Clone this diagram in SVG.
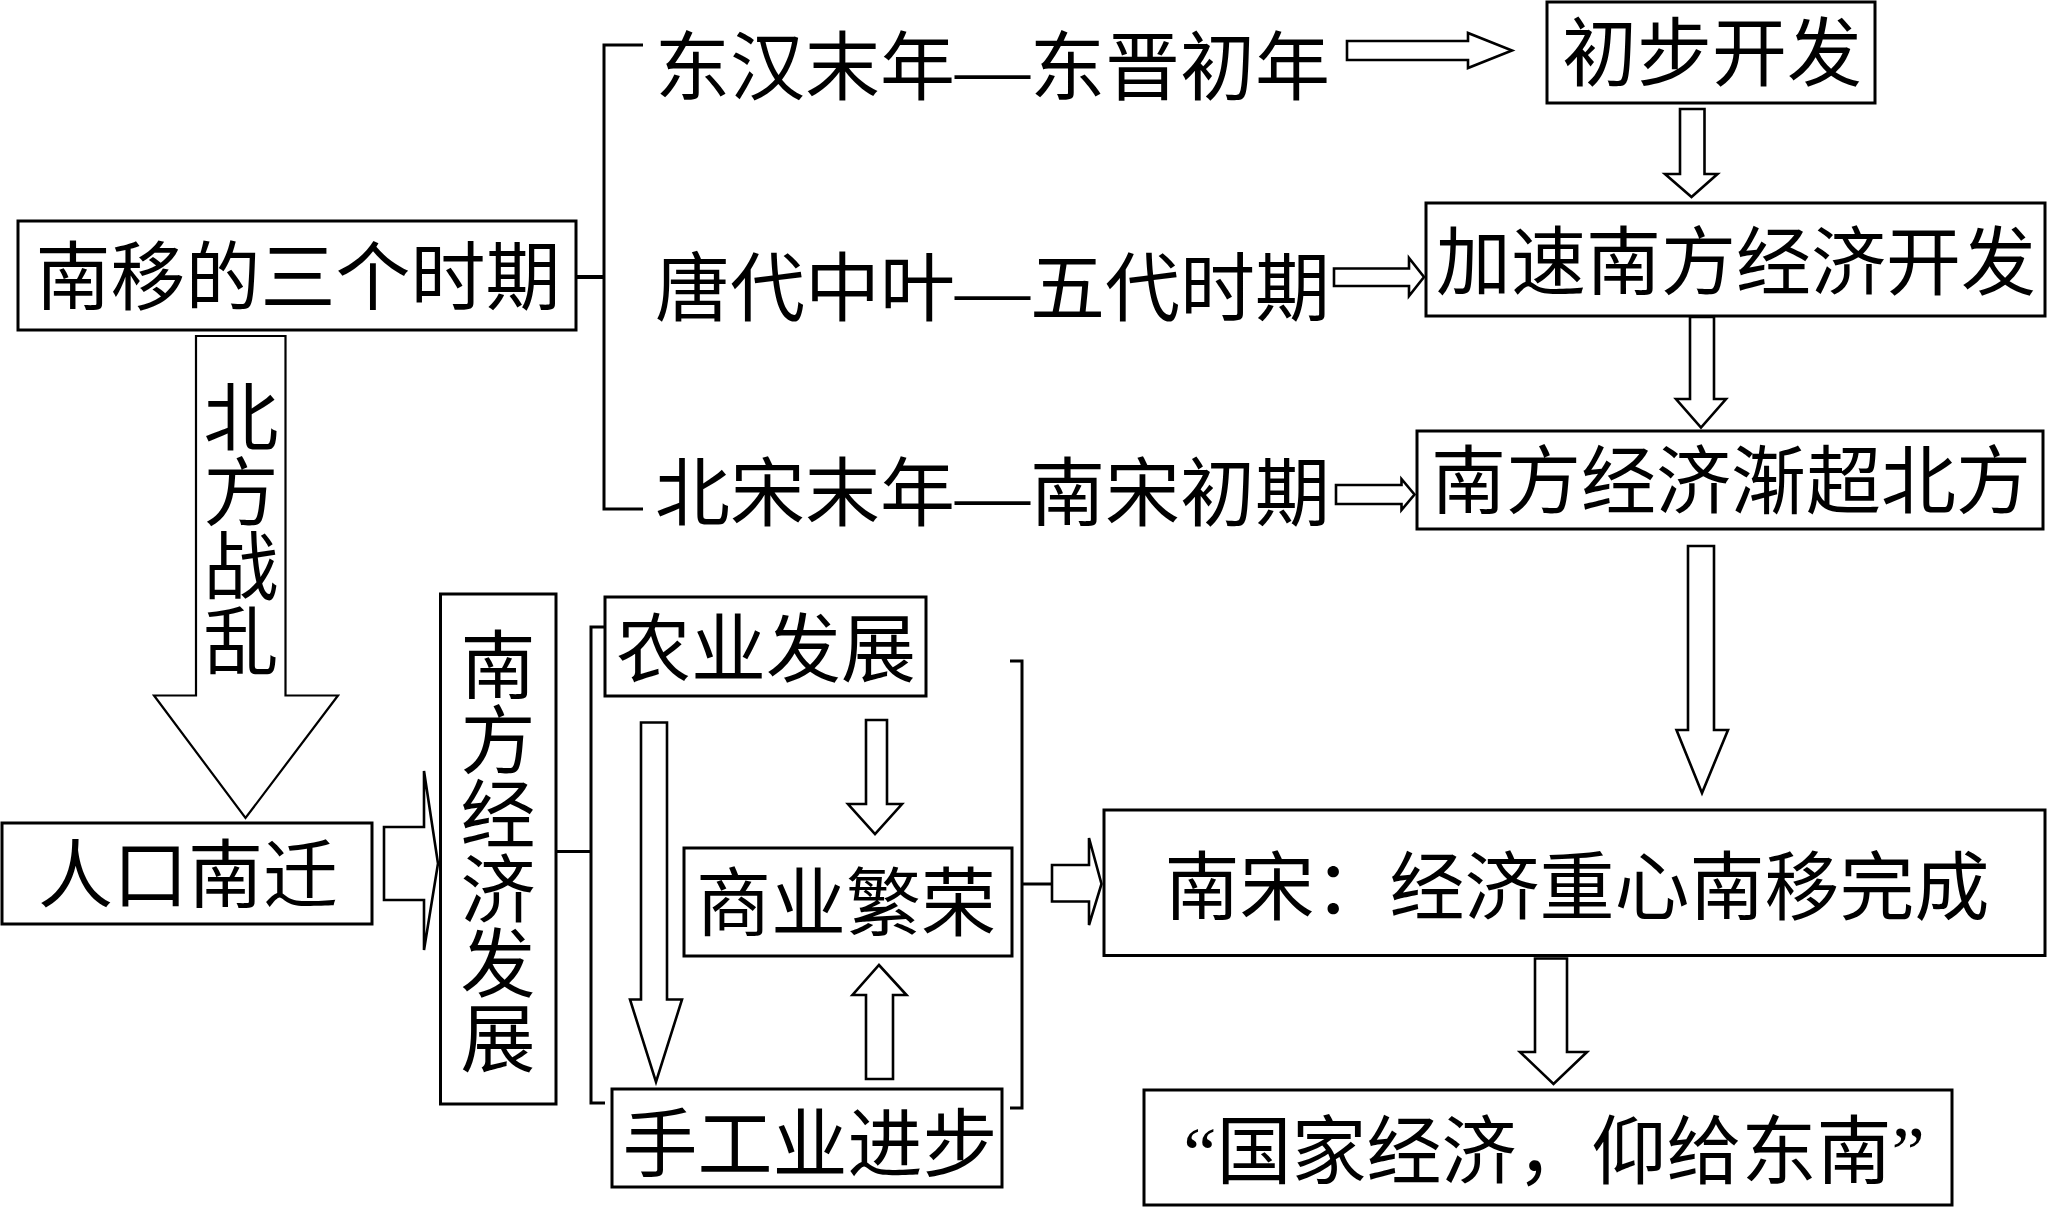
<svg xmlns="http://www.w3.org/2000/svg" width="2048" height="1208" viewBox="0 0 2048 1208">
<style>
.box{fill:#fff;stroke:#000;stroke-width:3}
.arr{fill:#fff;stroke:#000;stroke-width:2.6;stroke-linejoin:miter}
.ln{fill:none;stroke:#000;stroke-width:3}
.t{font-family:"Liberation Serif","Noto Sans CJK SC",serif;font-size:75px;fill:#000}
.m{text-anchor:middle}
.v{font-family:"Noto Sans CJK SC",sans-serif;font-size:75px;fill:#000;writing-mode:vertical-rl;letter-spacing:-0.5px}
</style>
<rect x="0" y="0" width="2048" height="1208" fill="#fff"/>
<g id="connectors">
<path class="ln" d="M576,277 H604" style="stroke-width:4"/>
<path class="ln" d="M643,45 H604 V509 H643"/>
<path class="ln" d="M556,851.5 H591"/>
<path class="ln" d="M605,627 H591 V1103 H605"/>
<path class="ln" d="M1010,661 H1022 V1108 H1010"/>
<path class="ln" d="M1022,884 H1052"/>
<polygon class="arr" points="1347,41 1468,41 1468,33 1512,50.5 1468,68 1468,60 1347,60"/>
<polygon class="arr" points="1334,268.5 1409,268.5 1409,258 1424,277 1409,296 1409,286 1334,286"/>
<polygon class="arr" points="1336,485 1401.5,485 1401.5,479 1414.5,494.5 1401.5,510 1401.5,504 1336,504"/>
<polygon class="arr" points="1680,109 1704.5,109 1704.5,174 1717.5,174 1691.5,197 1665,174 1680,174"/>
<polygon class="arr" points="1690,317 1714,317 1714,399 1726,399 1701,427.5 1676,399 1690,399"/>
<polygon class="arr" points="1688,546 1714,546 1714,730 1728,730 1702,793 1676.5,730 1688,730"/>
<polygon class="arr" points="1535,958.5 1567,958.5 1567,1052 1587,1052 1553.5,1084 1520,1052 1535,1052"/>
<polygon class="arr" points="196,336 285.5,336 285.5,695.5 338,695.5 245.5,818 154,695.5 196,695.5" style="stroke-width:2.2"/>
<polygon class="arr" points="384,827 424,827 424,771 438,863.5 424,950 424,900 384,900"/>
<polygon class="arr" points="641,722.5 667,722.5 667,999.5 682,999.5 656,1082 630,999.5 641,999.5"/>
<polygon class="arr" points="866,720 887,720 887,804 902,804 875,834 848,804 866,804"/>
<polygon class="arr" points="866,1079 893,1079 893,995 906.5,995 879,965 852.5,995 866,995"/>
<polygon class="arr" points="1052,865 1089,865 1089,838 1101.5,884 1089,925 1089,901.5 1052,901.5"/>
</g>
<g id="n_three_periods">
<rect class="box" x="18" y="221" width="558" height="109"/>
<text class="t m" x="298" y="304">南移的三个时期</text>
</g>
<g id="n_period1"><text class="t" x="655" y="94">东汉末年—东晋初年</text></g>
<g id="n_period2"><text class="t" x="655" y="315">唐代中叶—五代时期</text></g>
<g id="n_period3"><text class="t" x="655" y="520">北宋末年—南宋初期</text></g>
<g id="n_initial">
<rect class="box" x="1547" y="2" width="328" height="101"/>
<text class="t m" x="1712" y="80">初步开发</text>
</g>
<g id="n_accelerate">
<rect class="box" x="1426" y="203" width="619" height="113"/>
<text class="t m" x="1736" y="289">加速南方经济开发</text>
</g>
<g id="n_surpass">
<rect class="box" x="1417" y="431" width="626" height="98"/>
<text class="t m" x="1731" y="508">南方经济渐超北方</text>
</g>
<g id="n_war">
<text class="v" x="241" y="379">北方战乱</text>
</g>
<g id="n_migration">
<rect class="box" x="2" y="823" width="370" height="101"/>
<text class="t m" x="188" y="902">人口南迁</text>
</g>
<g id="n_south_econ">
<rect class="box" x="440.5" y="594" width="115.5" height="510"/>
<text class="v" x="498" y="627">南方经济发展</text>
</g>
<g id="n_agri">
<rect class="box" x="605" y="597" width="321" height="99"/>
<text class="t m" x="766" y="676">农业发展</text>
</g>
<g id="n_commerce">
<rect class="box" x="684" y="848" width="328" height="108"/>
<text class="t m" x="846" y="930">商业繁荣</text>
</g>
<g id="n_craft">
<rect class="box" x="612" y="1089" width="390" height="98"/>
<text class="t m" x="810" y="1171">手工业进步</text>
</g>
<g id="n_complete">
<rect class="box" x="1104" y="810" width="941" height="145.5"/>
<text class="t m" x="1577" y="914">南宋：经济重心南移完成</text>
</g>
<g id="n_quote">
<rect class="box" x="1144" y="1090" width="808" height="115"/>
<text class="t m" x="1554" y="1178">“国家经济，仰给东南”</text>
</g>
</svg>
